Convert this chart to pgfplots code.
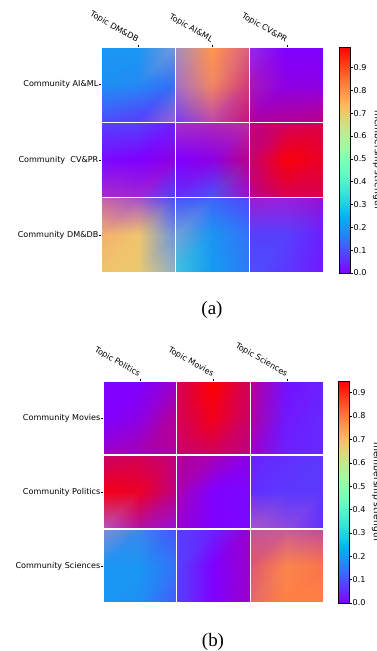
\documentclass[border=0pt]{standalone}
\usepackage{pgfplots}
\pgfplotsset{compat=1.18}
\usepackage{fontspec}
\setmainfont{DejaVu Sans}
\newfontfamily\capfont{Liberation Serif}
\newcommand\tl{\fontsize{8.1}{10}\selectfont}
\pgfplotsset{
  colormap={mplrainbow}{rgb=(0.5,0,1) rgb=(0.375,0.195,0.995) rgb=(0.25,0.383,0.981)
    rgb=(0.125,0.556,0.957) rgb=(0,0.707,0.924) rgb=(0.125,0.831,0.882) rgb=(0.25,0.924,0.831)
    rgb=(0.375,0.981,0.773) rgb=(0.5,1,0.707) rgb=(0.625,0.981,0.634) rgb=(0.75,0.924,0.556)
    rgb=(0.875,0.831,0.471) rgb=(1,0.707,0.383) rgb=(1,0.556,0.290) rgb=(1,0.383,0.195)
    rgb=(1,0.195,0.098) rgb=(1,0,0)},
  hcellstyle/.style={surf, shader=interp, mesh/rows=3, mesh/cols=3,
    mesh/color input=explicit mathparse,
    point meta={symbolic={
      (1-\thisrow{p})*(abs(2*\thisrow{v}-0.5)-(\thisrow{v}>0.75)*(2*\thisrow{v}-1.5))+0.5*\thisrow{p},
      (1-\thisrow{p})*sin(180*\thisrow{v}),
      (1-\thisrow{p})*cos(90*\thisrow{v})+\thisrow{p}}}},
  hmaxis/.style={scale only axis, anchor=south west,
    xmin=-0.5, xmax=2.5, ymin=-0.5, ymax=2.5, y dir=reverse,
    axis line style={draw=none},
    xtick={0,1,2}, ytick={0,1,2},
    xtick pos=right, xticklabel pos=right, ytick pos=left,
    tick align=outside, major tick length=2bp,
    tick style={black, line width=0.4pt},
    tick label style={font=\tl},
    y tick label style={inner xsep=0.5bp},
    x tick label style={rotate=-30, anchor=south east, yshift=-4bp, xshift=1bp},
    point meta min=0,
    colormap name=mplrainbow,
    colorbar,
    colorbar style={at={(parent axis.north east)}, anchor=north west,
      width=11bp, ytick={0,0.1,...,0.9},
      tick align=outside, ytick pos=right, major tick length=2bp,
      tick style={black, line width=0.4pt},
      yticklabel style={font=\tl, inner xsep=1bp, /pgf/number format/.cd, fixed, fixed zerofill, precision=1, assume math mode=true},
      ylabel={membership strength},
      ylabel style={rotate=180, font=\fontsize{9.2}{11}\selectfont,
        at={([xshift=19bp]rel axis cs:1,0.5)}, anchor=south}}
  }
}
% one cell: column, row, 3x3 nodes (top row first): value v and violet blend p
\newcommand\hcell[3]{\addplot[hcellstyle] table[row sep=\\,
  x expr={#1-0.483+0.483*mod(\coordindex,3)},
  y expr={#2-0.483+0.483*floor(\coordindex/3)}] {v p\\ #3};}
\begin{document}
\begin{tikzpicture}
\path[use as bounding box] (0,0) rectangle (377bp,651bp);
\begin{axis}[hmaxis, at={(101bp,378bp)}, width=223bp, height=226bp,
  point meta max=0.99, colorbar style={xshift=7bp},
  xticklabels={Topic DM\&DB, Topic AI\&ML, Topic CV\&PR},
  yticklabels={Community AI\&ML, Community\ \ CV\&PR, Community DM\&DB}]
\hcell{0}{0}{0.2 0\\ 0.2 0\\ 0.45 0.4\\ 0.19 0\\ 0.18 0\\ 0.2 0.25\\ 0.1 0\\ 0.08 0\\ 0.6 0.6\\}
\hcell{1}{0}{0.62 0.4\\ 0.8 0\\ 0.82 0.3\\ 0.65 0.5\\ 0.8 0.1\\ 0.88 0.35\\ 0.45 0.75\\ 0.8 0.5\\ 0.95 0.45\\}
\hcell{2}{0}{0.7 0.8\\ 0 0\\ 0 0\\ 0.9 0.7\\ 1 0.9\\ 1 0.9\\ 1 0.65\\ 1 0.6\\ 1 0.55\\}
\hcell{0}{1}{0.08 0\\ 0.08 0\\ 0.04 0\\ 0.01 0\\ 0 0\\ 1 0.9\\ 0.8 0.7\\ 0.8 0.75\\ 0.08 0\\}
\hcell{1}{1}{0.8 0.7\\ 0.85 0.65\\ 0.88 0.55\\ 0 0\\ 1 0.9\\ 1 0.55\\ 0.06 0\\ 0.1 0\\ 0.9 0.8\\}
\hcell{2}{1}{1 0.55\\ 1 0.35\\ 1 0.3\\ 1 0.45\\ 1 0.05\\ 1 0.15\\ 1 0.55\\ 1 0.3\\ 1 0.3\\}
\hcell{0}{2}{0.75 0.45\\ 0.7 0.6\\ 0.1 0\\ 0.74 0.05\\ 0.72 0\\ 0.45 0.4\\ 0.72 0\\ 0.71 0\\ 0.55 0.3\\}
\hcell{1}{2}{0.12 0.1\\ 0.13 0\\ 0.09 0\\ 0.45 0.35\\ 0.2 0\\ 0.15 0\\ 0.35 0.15\\ 0.21 0\\ 0.16 0\\}
\hcell{2}{2}{0.85 0.75\\ 0.8 0.8\\ 0.9 0.8\\ 0.08 0\\ 0.08 0\\ 0.04 0\\ 0.1 0\\ 0.07 0\\ 0.03 0\\}
\end{axis}
\begin{axis}[hmaxis, at={(103bp,48bp)}, width=221bp, height=222bp,
  point meta max=0.95, colorbar style={xshift=6bp},
  xticklabels={Topic Politics, Topic Movies, Topic Sciences},
  yticklabels={Community Movies, Community Politics, Community Sciences}]
\hcell{0}{0}{0 0\\ 0 0\\ 1 0.8\\ 0 0\\ 1 0.9\\ 1 0.6\\ 1 0.8\\ 1 0.7\\ 1 0.6\\}
\hcell{1}{0}{1 0.35\\ 1 0\\ 1 0.35\\ 1 0.35\\ 1 0.1\\ 1 0.4\\ 1 0.45\\ 1 0.35\\ 1 0.5\\}
\hcell{2}{0}{1 0.6\\ 0.02 0\\ 0.04 0\\ 1 0.65\\ 0.03 0\\ 0.05 0\\ 1 0.8\\ 0.04 0\\ 0.05 0\\}
\hcell{0}{1}{1 0.4\\ 1 0.35\\ 1 0.5\\ 1 0.1\\ 1 0.15\\ 1 0.5\\ 0.75 0.55\\ 0.95 0.6\\ 0.9 0.8\\}
\hcell{1}{1}{1 0.6\\ 1 0.7\\ 1 0.9\\ 1 0.7\\ 0 0\\ 0.01 0\\ 1 0.8\\ 0 0\\ 0.01 0\\}
\hcell{2}{1}{0.04 0\\ 0.06 0\\ 0.07 0\\ 0.06 0\\ 0.07 0\\ 0.07 0\\ 0.7 0.6\\ 0.6 0.7\\ 0.06 0\\}
\hcell{0}{2}{0.5 0.45\\ 0.3 0.35\\ 0.11 0\\ 0.2 0\\ 0.2 0\\ 0.15 0\\ 0.2 0\\ 0.19 0\\ 0.12 0\\}
\hcell{1}{2}{0.08 0\\ 0.04 0\\ 1 0.8\\ 0.08 0\\ 0 0\\ 1 0.8\\ 0.08 0\\ 0 0\\ 1 0.8\\}
\hcell{2}{2}{0.8 0.45\\ 0.8 0.4\\ 0.82 0.45\\ 0.85 0.25\\ 0.82 0.03\\ 0.84 0.05\\ 0.83 0.2\\ 0.83 0\\ 0.83 0\\}
\end{axis}
\node[font=\capfont\fontsize{19}{22}\selectfont] at (212bp,341bp) {(a)};
\node[font=\capfont\fontsize{19}{22}\selectfont] at (213bp,9bp) {(b)};
\end{tikzpicture}
\end{document}
